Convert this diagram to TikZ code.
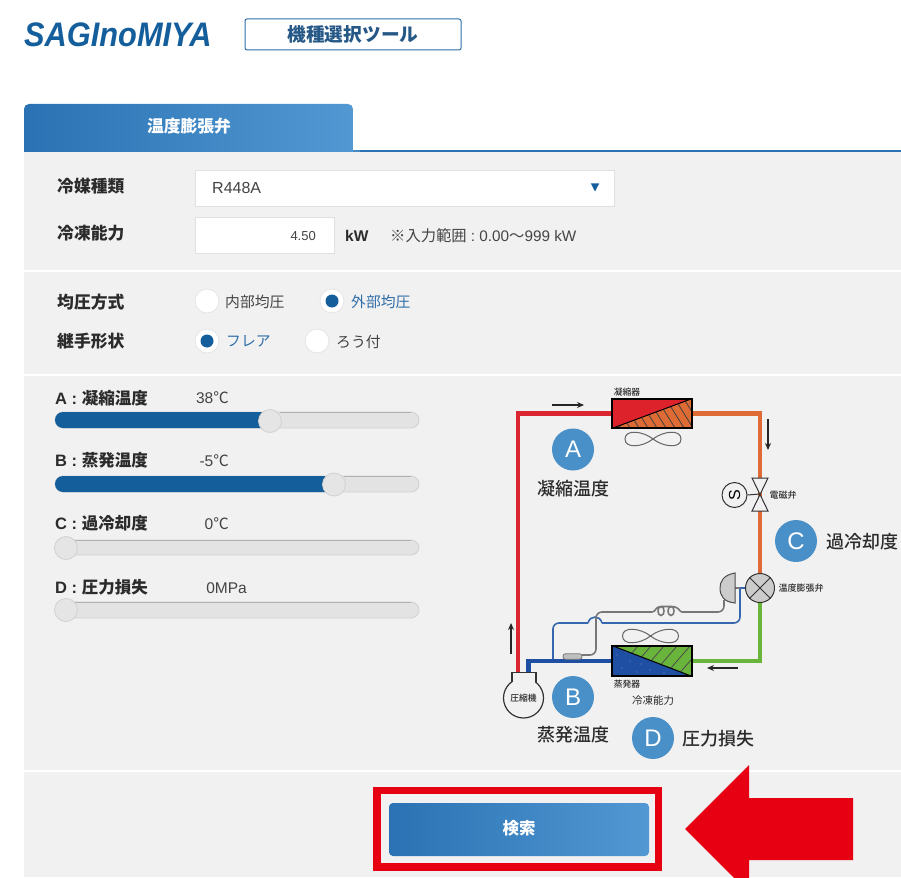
\documentclass[tikz,border=0pt]{standalone}
\usepackage{fontspec}
\usepackage{graphicx}
\usetikzlibrary{arrows.meta,shapes.geometric}
\setmainfont{Noto Sans CJK JP}
\newfontfamily\lat{Liberation Sans}
\newfontfamily\jpm{Noto Sans CJK JP Medium}
\newcommand\fs[1]{\fontsize{#1}{#1}\selectfont}
\definecolor{panel}{HTML}{F1F1F1}
\definecolor{navy}{HTML}{155E9C}
\definecolor{gradL}{HTML}{2A72B3}
\definecolor{gradR}{HTML}{5298D3}
\definecolor{txt}{HTML}{2B2B2B}
\definecolor{sub}{HTML}{444444}
\definecolor{linkblue}{HTML}{2F6EA8}
\definecolor{badge}{HTML}{4A90C8}
\definecolor{alert}{HTML}{E60012}
\definecolor{pRed}{HTML}{D92630}
\definecolor{pOrange}{HTML}{DE6B34}
\definecolor{pGreen}{HTML}{69B43A}
\definecolor{pBlue}{HTML}{1E4FA3}
\definecolor{thinBlue}{HTML}{3566AE}
\definecolor{thinGray}{HTML}{777777}
\tikzset{
  label/.style={inner sep=0pt,text=txt,font=\fs{16.8}\bfseries},
  slabel/.style={inner sep=0pt,text=txt,font=\fs{16.5}\bfseries},
  val/.style={inner sep=0pt,text=sub,font=\fs{15.5}\lat},
  opt/.style={inner sep=0pt,text=sub,font=\fs{14.8}},
  opton/.style={inner sep=0pt,text=linkblue,font=\fs{14.8}},
  radio/.style={circle,fill=white,draw=black!10,line width=.8pt,minimum size=24pt,inner sep=0pt},
  track/.style={draw=black!18,fill=black!11,line width=.8pt,rounded corners=8pt},
  trackedge/.style={draw=black!30,line width=.8pt},
  fillbar/.style={fill=navy,rounded corners=8pt},
  knob/.style={circle,fill=black!10,draw=black!18,line width=.8pt,minimum size=23pt,inner sep=0pt},
  pipe/.style={line width=4.6pt},
  thin pipe/.style={line width=1.6pt},
  flow/.style={-{Stealth[length=7pt,width=6pt]},line width=1.2pt,black!85},
  circ/.style={circle,fill=badge,minimum size=42pt,inner sep=0pt,text=white,font=\fs{24}\lat},
  big/.style={inner sep=0pt,text=txt,font=\fs{18}\jpm},
  tiny/.style={inner sep=0pt,text=txt,font=\fs{8.8}\jpm},
  fan/.style={draw=black!60,line width=1pt},
  hx/.style={minimum width=80pt,minimum height=29pt,inner sep=0pt,draw=black,line width=1.2pt}
}
\newcommand\fanshape{(0,0) .. controls (-10,-8) and (-28,-10) .. (-28,0) .. controls (-28,10) and (-10,8) .. (0,0) .. controls (10,-8) and (28,-10) .. (28,0) .. controls (28,10) and (10,8) .. (0,0)}
\begin{document}
\begin{tikzpicture}[x=1pt,y=-1pt]
\useasboundingbox (0,0) rectangle (901,877);
\clip (0,0) rectangle (901,877);
\fill[white] (0,0) rectangle (901,877);
% header
\node[inner sep=0pt,text=navy,anchor=west] (logo) at (24,35) {\scalebox{.905}[1]{\fs{34}\lat\bfseries\itshape SAGInoMIYA}};
\node[draw=linkblue,fill=white,line width=1pt,rounded corners=2pt,minimum width=216pt,minimum height=31pt,inner sep=0pt,text=linkblue!80!black,font=\fs{18.7}\bfseries] (tool) at (353,34.5) {\raisebox{1.5pt}{機種選択ツール}};
% panels
\fill[panel] (24,152) rectangle (901,877);
\fill[white] (24,270) rectangle (901,272);
\fill[white] (24,374.3) rectangle (901,376.3);
\fill[white] (24,770) rectangle (901,772);
\fill[gradL] (24,150) rectangle (901,152);
\shade[left color=gradL,right color=gradR,rounded corners=5pt] (24,160) -- (24,104) -- (353,104) -- (353,160) -- cycle;
\fill[panel] (24,152) rectangle (360,165);
\fill[gradR!60!gradL] (353,150) rectangle (360,152);
\fill[white] (353.3,104) rectangle (400,150);
\node[inner sep=0pt,text=white,font=\fs{16.8}\bfseries] (tab) at (189,126) {温度膨張弁};
% form
\node[label,anchor=west] (l1) at (57,186) {冷媒種類};
\node[draw=black!12,fill=white,line width=.8pt,minimum width=419pt,minimum height=36pt,inner sep=0pt] (sel) at (404.5,188) {};
\node[val,font=\fs{16}\lat,anchor=west] (r448) at (212,188) {R448A};
\node[isosceles triangle,isosceles triangle apex angle=55,shape border rotate=-90,fill=navy,minimum size=8pt,inner sep=0pt] (drop) at (595,186) {};
\node[label,anchor=west] (l2) at (57,233) {冷凍能力};
\node[draw=black!12,fill=white,line width=.8pt,minimum width=139pt,minimum height=36pt,inner sep=0pt] (inp) at (264.5,235.5) {};
\node[val,font=\fs{13}\lat,anchor=east] (v450) at (316,236) {4.50};
\node[inner sep=0pt,text=txt,font=\fs{15.5}\lat\bfseries,anchor=west] (kw) at (345,235.5) {kW};
\node[inner sep=0pt,text=sub,font=\fs{15.3},anchor=west] (range) at (390,235.5) {※入力範囲{\lat\ :\ 0.00}〜{\lat 999 kW}};
\node[label,anchor=west] (l3) at (57,302) {均圧方式};
\node[label,anchor=west] (l4) at (57,341) {継手形状};
\node[radio] (ra) at (207,301) {};
\node[opt,anchor=west] (ta) at (225,302) {内部均圧};
\node[radio] (rb) at (332,301) {};
\fill[navy] (rb) circle (6.5);
\node[opton,anchor=west] (tb) at (351,302) {外部均圧};
\node[radio] (rc) at (207,341) {};
\fill[navy] (rc) circle (6.5);
\node[opton,anchor=west] (tc) at (226,341) {フレア};
\node[radio] (rd) at (317,341) {};
\node[opt,anchor=west] (td) at (336,342) {ろう付};
% sliders
\node[slabel,anchor=west] (sa) at (55,398) {{\lat A : }凝縮温度};
\node[val,anchor=east] (sav) at (229,398) {38{\fontspec{Noto Sans CJK JP}℃}};
\draw[track] (55,412) rectangle (419,428);
\fill[fillbar] (55,412) rectangle (280,428);
\draw[trackedge] (280,412) -- (411,412);
\node[knob] (ka) at (270,421) {};
\node[slabel,anchor=west] (sb) at (55,460) {{\lat B : }蒸発温度};
\node[val,anchor=east] (sbv) at (229,461) {-5{\fontspec{Noto Sans CJK JP}℃}};
\draw[track] (55,476) rectangle (419,492);
\fill[fillbar] (55,476) rectangle (344,492);
\draw[trackedge] (344,476) -- (411,476);
\node[knob] (kb) at (334,484.5) {};
\node[slabel,anchor=west] (sc) at (55,523) {{\lat C : }過冷却度};
\node[val,anchor=east] (scv) at (229,524) {0{\fontspec{Noto Sans CJK JP}℃}};
\draw[track] (55,540) rectangle (419,555);
\draw[trackedge] (63,540) -- (411,540);
\node[knob] (kc) at (66,548) {};
\node[slabel,anchor=west] (sd) at (55,587) {{\lat D : }圧力損失};
\node[val,anchor=east] (sdv) at (247,588) {0MPa};
\draw[track] (55,602) rectangle (419,618);
\draw[trackedge] (63,602) -- (411,602);
\node[knob] (kd) at (66,610) {};
% refrigeration components (positions)
\node[hx] (cond) at (652,413.5) {};
\node[hx,minimum height=30pt] (evap) at (652,661) {};
\node[circle,minimum size=29pt,inner sep=0pt] (tev) at (760,588) {};
\coordinate (compRed) at (518,674);
\coordinate (compBlue) at (528.5,674);
\coordinate (valve) at (760,494);
% thick pipes
\draw[pipe,pRed] (compRed) |- (cond.west);
\draw[pipe,pOrange] (cond.east) -| (tev.north);
\draw[pipe,pGreen] (tev.south) |- (evap.east);
\draw[pipe,pBlue] (evap.west) -| (compBlue);
% condenser
\fill[pOrange] (cond.south west) rectangle (cond.north east);
\begin{scope}
\clip (cond.south west) -- (cond.north east) -- (cond.south east) -- cycle;
\foreach \i in {0,9,...,99} \draw[black!75,line width=.8pt] (612+\i,428) -- ++(-18,-29) ;
\end{scope}
\fill[pRed!90!red] (cond.south west) -- (cond.north west) -- (cond.north east) -- cycle;
\draw[black,line width=1pt] (cond.south west) -- (cond.north east);
\node[hx] at (cond) {};
\begin{scope}[shift={(653,439)}] \draw[fan] \fanshape; \end{scope}
\node[tiny] (tcond) at (627,392) {凝縮器};
% evaporator
\fill[pGreen] (evap.south west) rectangle (evap.north east);
\begin{scope}
\clip (evap.north west) -- (evap.north east) -- (evap.south east) -- cycle;
\foreach \i in {0,13,...,117} \draw[black!70,line width=.8pt] (612+\i,676) -- ++(26,-30);
\end{scope}
\fill[pBlue] (evap.north west) -- (evap.south east) -- (evap.south west) -- cycle;
\foreach \p in {(617,655),(622,668),(630,661),(637,672),(650,670),(664,673),(626,652),(641,664)} \fill[white!35!pBlue] \p circle (.6);
\draw[black,line width=1pt] (evap.north west) -- (evap.south east);
\node[hx,minimum height=30pt] at (evap) {};
\begin{scope}[shift={(650.5,636)}] \draw[fan] \fanshape; \end{scope}
\node[tiny] (tevap) at (627,684) {蒸発器};
\node[inner sep=0pt,text=txt,font=\fs{10.5}] (cap) at (653,701) {冷凍能力};
% solenoid valve
\draw[draw=black!80,line width=1pt,fill=panel] (752,478) -- (768,478) -- (752,511) -- (768,511) -- cycle;
\node[circle,draw=black!80,line width=1pt,fill=panel,minimum size=25pt,inner sep=0pt,font=\fs{16}\lat,rotate=90] (sol) at (734.5,495) {S};
\draw[black!80,line width=1pt] (sol.south) -- (valve);
\node[tiny,font=\fs{9}\jpm] (tsol) at (783,495) {電磁弁};
% thin lines
\coordinate (bulbStem) at (735,588);
\draw[thin pipe,thinBlue,rounded corners=6pt] (553,659) -- (553,623) -- (588,623);
\draw[thin pipe,thinBlue] (588,623) .. controls (590,615) and (600,615) .. (602,623);
\draw[thin pipe,thinBlue,rounded corners=6pt] (602,623) -- (740,623) -- (740,588);
\draw[thin pipe,thinGray] (bulbStem) -- (tev.west);
\draw[thin pipe,thinBlue] (740,588) -- (tev.west);
\draw[thin pipe,thinGray,rounded corners=6pt] (724,600) -- (724,612) -- (682,612);
\draw[thin pipe,thinGray] (682,612) .. controls (679,612) and (680,606.5) .. (671,606.5) .. controls (667,606.5) and (667,615.5) .. (671,615.5) .. controls (675,615.5) and (675,606.5) .. (671,606.5);
\draw[thin pipe,thinGray] (671,606.5) -- (661,606.5) .. controls (657,606.5) and (657,615.5) .. (661,615.5) .. controls (665,615.5) and (665,606.5) .. (661,606.5) .. controls (655,606.5) and (656,612) .. (652,612);
\draw[thin pipe,thinGray,rounded corners=6pt] (652,612) -- (596,612) -- (596,655) -- (582,655);
\node[draw=thinGray,fill=black!25,line width=.8pt,rounded corners=2.5pt,minimum width=19pt,minimum height=5.5pt,inner sep=0pt] (pill) at (572.5,656.5) {};
\draw[draw=black!70,fill=black!20,line width=1pt] (735,573) .. controls (723,575) and (720,582) .. (720,588) .. controls (720,596) and (724,602) .. (735,603) -- cycle;
\node[circle,draw=black!80,fill=black!20,line width=1pt,minimum size=29pt,inner sep=0pt] (tev2) at (tev) {};
\draw[black!80,line width=1pt] (tev2.45) -- (tev2.225) (tev2.135) -- (tev2.315);
\node[tiny,font=\fs{9}\jpm] (ttev) at (801,588) {温度膨張弁};
% compressor
\draw[draw=black!80,fill=panel,line width=1.2pt] (512,684) -- (512,672.5) -- (536,672.5) -- (536,684);
\node[circle,draw=black!80,fill=panel,line width=1.2pt,minimum size=40pt,inner sep=0pt,tiny] (comp) at (523.5,698) {圧縮機};
\fill[panel] (512.7,673.2) rectangle (535.3,685);
% flow arrows
\coordinate (f1a) at (552,405); \coordinate (f1b) at (584,405);
\coordinate (f2a) at (768,419); \coordinate (f2b) at (768,450);
\coordinate (f3a) at (511,654); \coordinate (f3b) at (511,623);
\coordinate (f4a) at (738,668); \coordinate (f4b) at (707,668);
\draw[flow] (f1a) -- (f1b);
\draw[flow] (f2a) -- (f2b);
\draw[flow] (f3a) -- (f3b);
\draw[flow] (f4a) -- (f4b);
% badges
\node[circ] (A) at (573,449.5) {A};
\node[big] (ta2) at (573,489) {凝縮温度};
\node[circ] (C) at (796,541) {C};
\node[big] (tc2) at (862,542) {過冷却度};
\node[circ] (B) at (573,697) {B};
\node[big] (tb2) at (573,735) {蒸発温度};
\node[circ] (D) at (653,738) {D};
\node[big] (td2) at (718,739) {圧力損失};
% search button
\node[draw=alert,line width=7.5pt,minimum width=281.5pt,minimum height=76.5pt,inner sep=0pt] (frame) at (517.7,828.7) {};
\shade[left color=gradL,right color=gradR,rounded corners=4pt] (389,803) rectangle (649,856);
\node[inner sep=0pt,text=white,font=\fs{16.5}\bfseries] (go) at (519,828) {検索};
\fill[alert] (685,829) -- (749,765) -- (749,798) -- (853,798) -- (853,860) -- (749,860) -- (749,893) -- cycle;
\end{tikzpicture}
\end{document}
